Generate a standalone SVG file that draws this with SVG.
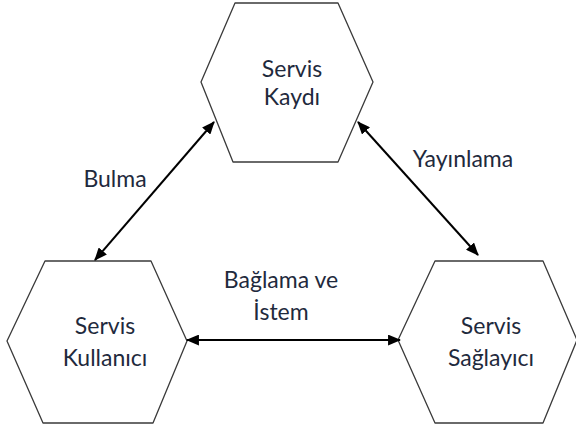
<svg xmlns="http://www.w3.org/2000/svg" width="576" height="435" viewBox="0 0 576 435">
  <defs>
    <marker id="ah" viewBox="0 0 12 10" refX="11" refY="5" markerWidth="13" markerHeight="11" markerUnits="userSpaceOnUse" orient="auto-start-reverse">
      <path d="M0,0 L12,5 L0,10 Z" fill="#000"/>
    </marker>
    <style>
      .hex { fill: #ffffff; stroke: #3a3a3a; stroke-width: 1.3; stroke-linejoin: round; }
      .t { font-family: Lato, "Open Sans", "Liberation Sans", sans-serif; font-size: 23px; fill: #1f2a3d; text-anchor: middle; }
      .c { stroke: #000; stroke-width: 2; fill: none; marker-start: url(#ah); marker-end: url(#ah); }
    </style>
  </defs>
  <rect width="576" height="435" fill="#ffffff"/>

  <g id="servis-kaydi">
    <polygon class="hex" points="235,3 338,3 373,82 338,162 233,162 201,82"/>
    <text class="t" x="292" y="77">Servis</text>
    <text class="t" x="292" y="105">Kaydı</text>
  </g>

  <g id="servis-kullanici">
    <polygon class="hex" points="45,261 151,261 187,341 153,423 43,423 7,341"/>
    <text class="t" x="105" y="334">Servis</text>
    <text class="t" x="105" y="366">Kullanıcı</text>
  </g>

  <g id="servis-saglayici">
    <polygon class="hex" points="435,261 543,261 577,340 543,423 435,423 398,340"/>
    <text class="t" x="491" y="334">Servis</text>
    <text class="t" x="491" y="366">Sağlayıcı</text>
  </g>

  <g id="connectors">
    <line class="c" x1="95" y1="260" x2="214" y2="122"/>
    <line class="c" x1="358" y1="122" x2="478" y2="255"/>
    <line class="c" x1="187" y1="340" x2="400" y2="340"/>
  </g>

  <g id="labels">
    <text class="t" x="115" y="187">Bulma</text>
    <text class="t" x="463" y="167">Yayınlama</text>
    <text class="t" x="281" y="288">Bağlama ve</text>
    <text class="t" x="281" y="320">İstem</text>
  </g>
</svg>
